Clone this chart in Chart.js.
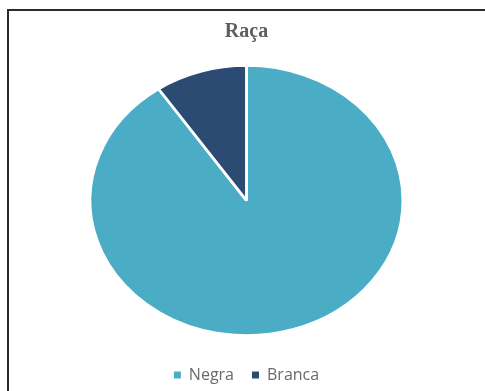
<!DOCTYPE html>
<html>
<head>
<meta charset="utf-8">
<script src="https://cdn.jsdelivr.net/npm/chart.js@4/dist/chart.umd.min.js"></script>
<style>
  html, body { margin: 0; padding: 0; background: #ffffff; }
  body { width: 485px; height: 391px; position: relative; overflow: hidden; }
  #frame { position: absolute; left: 7px; top: 9px; width: 490px; height: 400px;
           border-left: 2px solid #2b2b2b; border-top: 2px solid #2b2b2b; box-sizing: border-box; }
  #wrap { position: absolute; left: 0; top: 0; width: 485px; height: 391px; }
</style>
</head>
<body>
<div id="frame"></div>
<div id="wrap"><canvas id="c" width="485" height="391"></canvas></div>
<script>
const titleText = 'Raça';
const categories = ['Negra', 'Branca'];
const values = [90.5, 9.5];
const colors = ['#4BACC6', '#2C4B73'];

// horizontal stretch of the pie (the original is an ellipse)
const stretchX = 1.159;
const stretchPlugin = {
  id: 'stretch',
  beforeDatasetsDraw(chart) {
    const arc = chart.getDatasetMeta(0).data[0];
    const ctx = chart.ctx;
    ctx.save();
    ctx.translate(arc.x, 0);
    ctx.scale(stretchX, 1);
    ctx.translate(-arc.x, 0);
  },
  afterDatasetsDraw(chart) {
    chart.ctx.restore();
  }
};

const defaultLabels = Chart.controllers.pie.overrides.plugins.legend.labels.generateLabels;

new Chart(document.getElementById('c'), {
  type: 'pie',
  data: {
    labels: categories,
    datasets: [{
      data: values,
      backgroundColor: colors,
      borderColor: '#ffffff',
      borderWidth: 2.5,
      clip: false
    }]
  },
  options: {
    responsive: false,
    animation: false,
    radius: 135,
    layout: { padding: { left: 8, right: 0, top: 0, bottom: -2 } },
    plugins: {
      title: {
        display: true,
        text: titleText,
        color: '#5f5f5f',
        font: { family: '"Liberation Serif", "Times New Roman", serif', size: 20, weight: 'bold' },
        padding: { top: 19.5, bottom: 8.5 }
      },
      legend: {
        position: 'bottom',
        labels: {
          color: '#6a6a6a',
          font: { family: '"Open Sans", sans-serif', size: 16 },
          boxWidth: 7,
          boxHeight: 7,
          padding: 18,
          generateLabels(chart) {
            return defaultLabels(chart).map(l => Object.assign(l, { lineWidth: 0, strokeStyle: 'rgba(0,0,0,0)' }));
          }
        }
      },
      tooltip: { enabled: false }
    }
  },
  plugins: [stretchPlugin]
});
</script>
</body>
</html>
